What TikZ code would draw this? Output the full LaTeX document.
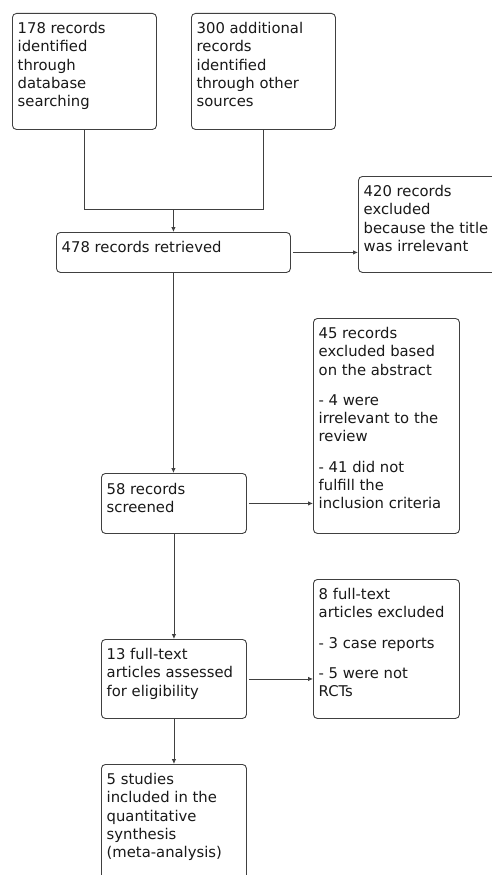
\documentclass[tikz,border=0pt]{standalone}
\usepackage{fontspec}
\setmainfont{DejaVu Sans}
\usetikzlibrary{arrows.meta}
\begin{document}
\begin{tikzpicture}[x=1pt,y=-1pt,
  box/.style={draw=black!75, line width=0.9pt, rounded corners=4pt, rectangle, inner sep=0pt, anchor=north west},
  txt/.style={anchor=north west, align=left, inner sep=0pt, font=\fontsize{14.8}{18.3}\selectfont, text=black!90},
  link/.style={draw=black!75, line width=0.9pt},
  arr/.style={link, -{Latex[length=5pt,width=4.5pt]}}]
\clip (0,0) rectangle (492,875);
\fill[white] (0,0) rectangle (492,875);
% boxes
\node[box, minimum width=144pt, minimum height=116pt] (b1) at (12,13) {};
\node[box, minimum width=144pt, minimum height=116pt] (b2) at (191,13) {};
\node[box, minimum width=234pt, minimum height=40pt] (b3) at (56,232) {};
\node[box, minimum width=142pt, minimum height=96pt] (b420) at (358,176) {};
\node[box, minimum width=146pt, minimum height=215pt] (b45) at (313,318) {};
\node[box, minimum width=145pt, minimum height=60pt] (b58) at (101,473) {};
\node[box, minimum width=146pt, minimum height=139pt] (b8) at (313,579) {};
\node[box, minimum width=145pt, minimum height=79pt] (b13) at (101,639) {};
\node[box, minimum width=145pt, minimum height=130pt] (b5) at (101,764) {};
% texts
\node[txt] (t1) at ([shift={(5.5,9)}]b1.north west) {178 records\\identified\\through\\database\\searching};
\node[txt] (t2) at ([shift={(5.5,9)}]b2.north west) {300 additional\\records\\identified\\through other\\sources};
\node[txt] (t3) at ([shift={(5.5,9)}]b3.north west) {478 records retrieved};
\node[txt] (t420) at ([shift={(5.5,9)}]b420.north west) {420 records\\excluded\\because the title\\was irrelevant};
\node[txt] (t45) at ([shift={(5.5,9)}]b45.north west) {45 records\\excluded based\\on the abstract\\[12pt]- 4 were\\irrelevant to the\\review\\[12pt]- 41 did not\\fulfill the\\inclusion criteria};
\node[txt] (t58) at ([shift={(5.5,10)}]b58.north west) {58 records\\screened};
\node[txt] (t8) at ([shift={(5.5,9)}]b8.north west) {8 full-text\\articles excluded\\[12pt]- 3 case reports\\[12pt]- 5 were not\\RCTs};
\node[txt] (t13) at ([shift={(5.5,9)}]b13.north west) {13 full-text\\articles assessed\\for eligibility};
\node[txt] (t5) at ([shift={(5.5,9)}]b5.north west) {5 studies\\included in the\\quantitative\\synthesis\\(meta-analysis)};
% connectors
\coordinate (j) at (b3.north |- 0,209);
\draw[link] (b1.south) |- (j);
\draw[link] (b2.south) |- (j);
\draw[arr] (j) -- (b3.north);
\draw[arr] ([xshift=2pt]b3.east) -- (b3.east -| b420.west);
\draw[arr] (b3.south) -- (b3.south |- b58.north);
\draw[arr] ([xshift=2pt]b58.east) -- (b58.east -| b45.west);
\draw[arr] (b58.south) -- (b13.north);
\draw[arr] ([xshift=2pt]b13.east) -- (b13.east -| b8.west);
\draw[arr] (b13.south) -- (b5.north);
\end{tikzpicture}
\end{document}
